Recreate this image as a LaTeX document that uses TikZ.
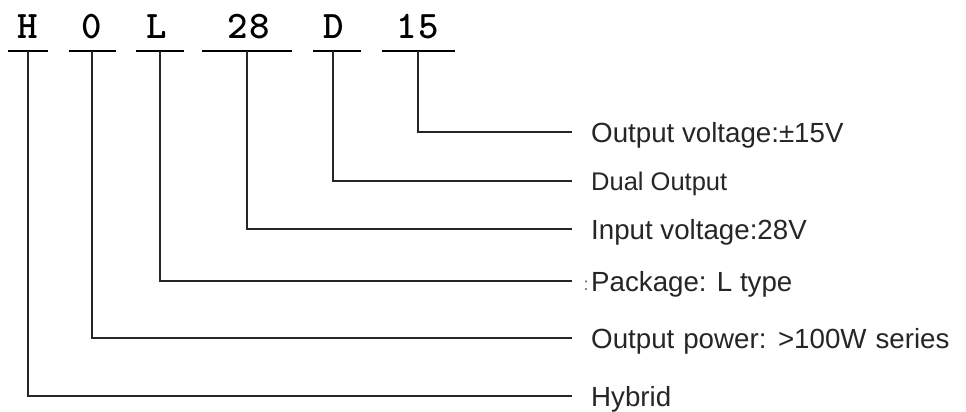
\documentclass[tikz,border=0pt]{standalone}
\usepackage{fontspec}
\setmainfont{Liberation Sans}
\begin{document}
\begin{tikzpicture}[x=1pt,y=-1pt,
  code/.style={font=\fontsize{39}{41}\selectfont\ttfamily\bfseries, anchor=base, inner sep=0pt},
  bar/.style={fill=black, draw=none, inner sep=0pt, minimum height=2.8pt},
  conn/.style={line width=1.6pt, black!85},
  lbl/.style={font=\fontsize{27.7}{32}\selectfont, anchor=west, inner sep=0pt, text height=20pt, text depth=0pt, text=black!85}]
\useasboundingbox[fill=white] (0,0) rectangle (966,412);
% codes
\node[code] (cH) at (28,38) {H};
\node[code] (c0) at (92,38) {0};
\node[code] (cL) at (157,38) {L};
\node[code] (c28) at (249,38) {2\kern2pt 8};
\node[code] (cD) at (334,38) {D};
\node[code] (c15) at (418,38) {1\kern2pt 5};
% underlines
\node[bar, minimum width=40pt] (uH) at (28,51) {};
\node[bar, minimum width=47pt] (u0) at (92,51) {};
\node[bar, minimum width=48pt] (uL) at (160,51) {};
\node[bar, minimum width=90pt] (u28) at (247,51) {};
\node[bar, minimum width=48pt] (uD) at (337,51) {};
\node[bar, minimum width=73pt] (u15) at (418,51) {};
% labels
\node[lbl] (l15) at (591,132) {Output voltage:±15V};
\node[lbl, font=\fontsize{25.5}{30}\selectfont, text height=19pt] (lD) at (591,181) {Dual Output};
\node[lbl] (l28) at (591,229) {Input voltage:28V};
\node[lbl] (lL) at (591,281) {Package: L type};
\node[lbl] (l0) at (591,338) {\spaceskip=9pt\relax Output power: >100W series};
\node[lbl] (lH) at (591,396) {Hybrid};
\node[font=\fontsize{18}{20}\selectfont, inner sep=0pt, text=black!60] (pc) at (586,286) {:};
% connectors
\draw[conn] (uH.center) |- ([xshift=-19pt]lH.west);
\draw[conn] (u0.center) |- ([xshift=-19pt]l0.west);
\draw[conn] (uL.center) |- ([xshift=-19pt]lL.west);
\draw[conn] (u28.center) |- ([xshift=-19pt]l28.west);
\draw[conn] ([xshift=-4pt]uD.center) |- ([xshift=-19pt]lD.west);
\draw[conn] (u15.center) |- ([xshift=-19pt]l15.west);
\end{tikzpicture}
\end{document}
